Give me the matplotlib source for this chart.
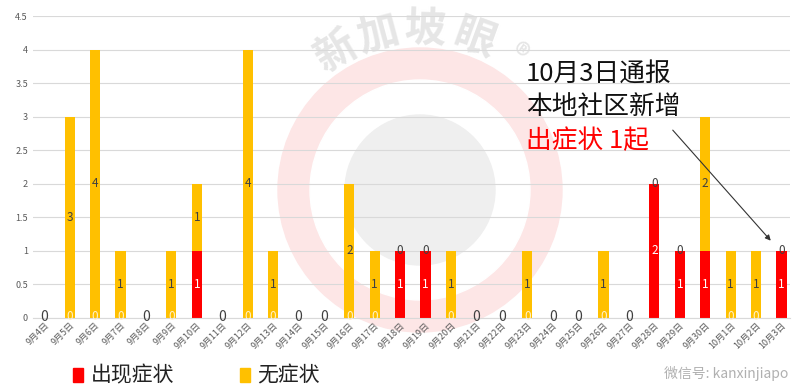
import matplotlib.pyplot as plt
import numpy as np

plt.rcParams['font.family'] = ['Noto Sans CJK SC', 'DejaVu Sans']

# data
dates = ['9月4日', '9月5日', '9月6日', '9月7日', '9月8日', '9月9日', '9月10日',
         '9月11日', '9月12日', '9月13日', '9月14日', '9月15日', '9月16日', '9月17日',
         '9月18日', '9月19日', '9月20日', '9月21日', '9月22日', '9月23日', '9月24日',
         '9月25日', '9月26日', '9月27日', '9月28日', '9月29日', '9月30日', '10月1日',
         '10月2日', '10月3日']
symptomatic = [0, 0, 0, 0, 0, 0, 1, 0, 0, 0, 0, 0, 0, 0, 1, 1, 0, 0, 0, 0,
               0, 0, 0, 0, 2, 1, 1, 0, 0, 1]
asymptomatic = [0, 3, 4, 1, 0, 1, 1, 0, 4, 1, 0, 0, 2, 1, 0, 0, 1, 0, 0, 1,
                0, 0, 1, 0, 0, 0, 2, 1, 1, 0]

red = '#FF0000'
yellow = '#FFC000'

fig = plt.figure(figsize=(8, 3.91), dpi=100)

# background watermark, drawn in pixel coordinates
bg = fig.add_axes([0, 0, 1, 1], zorder=0)
bg.set_xlim(0, 800)
bg.set_ylim(391, 0)
bg.set_aspect('equal')
bg.axis('off')
bg.add_patch(plt.Circle((420, 190), 142, color='#fde6e6', zorder=0))
bg.add_patch(plt.Circle((420, 190), 110, color='white', zorder=1))
bg.add_patch(plt.Circle((420, 190), 75, color='#efefef', zorder=2))
for ch, ang, r in zip(['新', '加', '坡', '眼', '®'], [121, 105, 88, 70, 54],
                      [162, 160, 160, 160, 165]):
    a = np.radians(ang)
    bg.text(420 + r * np.cos(a), 190 - r * np.sin(a), ch,
            fontsize=30 if ch != '®' else 22,
            color='#e6e6e6', fontweight='bold', ha='center', va='center',
            rotation=ang - 90, zorder=3)

ax = fig.add_axes([0.041, 0.187, 0.947, 0.772], zorder=1)
ax.patch.set_alpha(0)

x = np.arange(len(dates))
w = 0.4
sym = np.array(symptomatic)
asym = np.array(asymptomatic)
ax.bar(x, sym, w, color=red, zorder=2)
ax.bar(x, asym, w, bottom=sym, color=yellow, zorder=2)

for i in range(len(x)):
    s, a = sym[i], asym[i]
    if s > 0:
        ax.text(x[i], s / 2, str(s), ha='center', va='center', fontsize=8.5,
                color='white', zorder=3)
    elif a > 0:
        ax.text(x[i], 0.02, '0', ha='center', va='center', fontsize=8.5,
                color='#fff2cc', zorder=3)
    if a > 0:
        ax.text(x[i], s + a / 2, str(a), ha='center', va='center', fontsize=8.5,
                color='#404040', zorder=3)
    elif s > 0:
        ax.text(x[i], s, '0', ha='center', va='center', fontsize=8.5,
                color='#404040', zorder=3)
    else:
        ax.text(x[i], 0.02, '0', ha='center', va='center', fontsize=10,
                color='#404040', zorder=3)

ax.set_ylim(0, 4.5)
ax.set_xlim(-0.45, len(x) - 0.65)
ax.set_yticks(np.arange(0, 4.51, 0.5))
ax.set_yticklabels(['0', '0.5', '1', '1.5', '2', '2.5', '3', '3.5', '4', '4.5'])
ax.yaxis.grid(True, color='#d9d9d9', linewidth=0.8, zorder=0)
ax.set_axisbelow(True)
for sp in ax.spines.values():
    sp.set_visible(False)
ax.spines['bottom'].set_visible(True)
ax.spines['bottom'].set_color('#d9d9d9')
ax.tick_params(axis='both', length=0, labelsize=6.5, colors='#595959')
ax.tick_params(axis='x', pad=2)
ax.set_xticks(x)
ax.set_xticklabels(dates, rotation=45, ha='right', rotation_mode='anchor')

# annotation
ax.text(18.95, 3.62, '10月3日通报', fontsize=18.5, color='#111111',
        va='center', ha='left')
ax.text(18.95, 3.15, '本地社区新增', fontsize=18.5, color='#111111',
        va='center', ha='left')
ax.text(18.95, 2.63, '出症状 1起', fontsize=18.5, color=red, va='center',
        ha='left')
ax.annotate('', xy=(28.65, 1.12), xytext=(24.65, 2.83),
            arrowprops=dict(arrowstyle='-|>', color='#333333', lw=0.8,
                            mutation_scale=8))

# legend
fig.patches.append(plt.Rectangle((0.091, 0.022), 0.0125, 0.036, color=red,
                                 transform=fig.transFigure))
fig.text(0.114, 0.04, '出现症状', fontsize=15, color='#222222', va='center')
fig.patches.append(plt.Rectangle((0.3, 0.022), 0.0125, 0.036, color=yellow,
                                 transform=fig.transFigure))
fig.text(0.322, 0.04, '无症状', fontsize=15, color='#222222', va='center')
fig.text(0.985, 0.045, '微信号: kanxinjiapo', fontsize=10, color='#b0b0b0',
         ha='right', va='center')

fig.savefig('out.png', dpi=100)
